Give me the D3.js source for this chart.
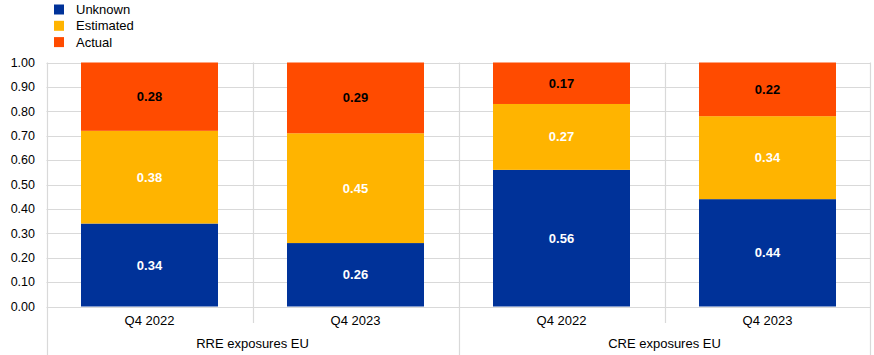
<!DOCTYPE html>
<html><head><meta charset="utf-8">
<script src="https://cdn.jsdelivr.net/npm/d3@7"></script>
<style>body{margin:0;background:#fff}svg{display:block;font-family:"Liberation Sans",Arial,sans-serif}</style>
</head><body><svg id="c" width="874" height="355"></svg>
<script>
const groups = ["RRE exposures EU", "CRE exposures EU"];
const periods = ["Q4 2022", "Q4 2023"];
const series = ["Unknown", "Estimated", "Actual"];
const colors = ["#003299", "#FFB400", "#FF4B00"];
const labelColors = ["#ffffff", "#ffffff", "#000000"];
const unknown = [0.34, 0.26, 0.56, 0.44];
const estimated = [0.38, 0.45, 0.27, 0.34];
const actual = [0.28, 0.29, 0.17, 0.22];
const yTicks = [0, 0.1, 0.2, 0.3, 0.4, 0.5, 0.6, 0.7, 0.8, 0.9, 1.0];

const svg = d3.select("#c");
const L = 46.5, R = 870.5, T = 62.5, B = 306.5;
const cats = [];
groups.forEach((g, gi) => periods.forEach((p, pi) => cats.push({key: g + "|" + p, g, p, gi, pi})));
const data = cats.map((c, i) => ({...c, Unknown: unknown[i], Estimated: estimated[i], Actual: actual[i]}));

const x = d3.scaleBand().domain(cats.map(c => c.key)).range([L, R]).paddingInner(0.335).paddingOuter(0.1675);
const cell = d3.scaleBand().domain(cats.map(c => c.key)).range([L, R]).padding(0);
const y = d3.scaleLinear().domain([0, 1]).range([B, T]);
const grid = "#d9d9d9";

svg.append("g").selectAll("line").data(yTicks).join("line")
  .attr("x1", L).attr("x2", R).attr("y1", d => Math.round(y(d)) + 0.5).attr("y2", d => Math.round(y(d)) + 0.5)
  .attr("stroke", grid).attr("stroke-width", 1);

cats.forEach((c, i) => {
  const xl = Math.round(cell(c.key)) + 0.5;
  const long = c.pi === 0;
  svg.append("line").attr("x1", xl).attr("x2", xl).attr("y1", T).attr("y2", long ? 355 : 323)
    .attr("stroke", grid).attr("stroke-width", 1.2);
});
svg.append("line").attr("x1", R).attr("x2", R).attr("y1", T).attr("y2", 355).attr("stroke", grid).attr("stroke-width", 1.2);

const stack = d3.stack().keys(series)(data);
stack.forEach((layer, si) => {
  const g = svg.append("g");
  g.selectAll("rect").data(layer).join("rect")
    .attr("x", d => x(d.data.key)).attr("width", x.bandwidth())
    .attr("y", d => y(d[1])).attr("height", d => y(d[0]) - y(d[1]))
    .attr("fill", colors[si]);
  g.selectAll("text").data(layer).join("text")
    .attr("x", d => x(d.data.key) + x.bandwidth() / 2)
    .attr("y", d => (y(d[0]) + y(d[1])) / 2)
    .attr("dy", "0.35em").attr("text-anchor", "middle")
    .attr("font-size", 13).attr("font-weight", "bold").attr("fill", labelColors[si])
    .text(d => (d[1] - d[0]).toFixed(2));
});

svg.append("g").selectAll("text").data(yTicks).join("text")
  .attr("x", 35).attr("y", d => y(d)).attr("dy", "0.35em").attr("text-anchor", "end")
  .attr("font-size", 12.5).attr("fill", "#000").text(d => d.toFixed(2));

svg.append("g").selectAll("text").data(cats).join("text")
  .attr("x", c => cell(c.key) + cell.bandwidth() / 2).attr("y", 320).attr("dy", "0.35em")
  .attr("text-anchor", "middle").attr("font-size", 13).text(c => c.p);
svg.append("g").selectAll("text").data(groups).join("text")
  .attr("x", (g, gi) => (cell(cats[gi * 2].key) + cell(cats[gi * 2 + 1].key) + cell.bandwidth()) / 2)
  .attr("y", 343).attr("dy", "0.35em").attr("text-anchor", "middle").attr("font-size", 13).text(g => g);

const leg = svg.append("g");
series.forEach((s, i) => {
  leg.append("rect").attr("x", 54).attr("y", 4.5 + i * 16.3).attr("width", 10).attr("height", 10).attr("fill", colors[i]);
  leg.append("text").attr("x", 76).attr("y", 9.5 + i * 16.3).attr("dy", "0.35em").attr("font-size", 13).text(s);
});
</script></body></html>
